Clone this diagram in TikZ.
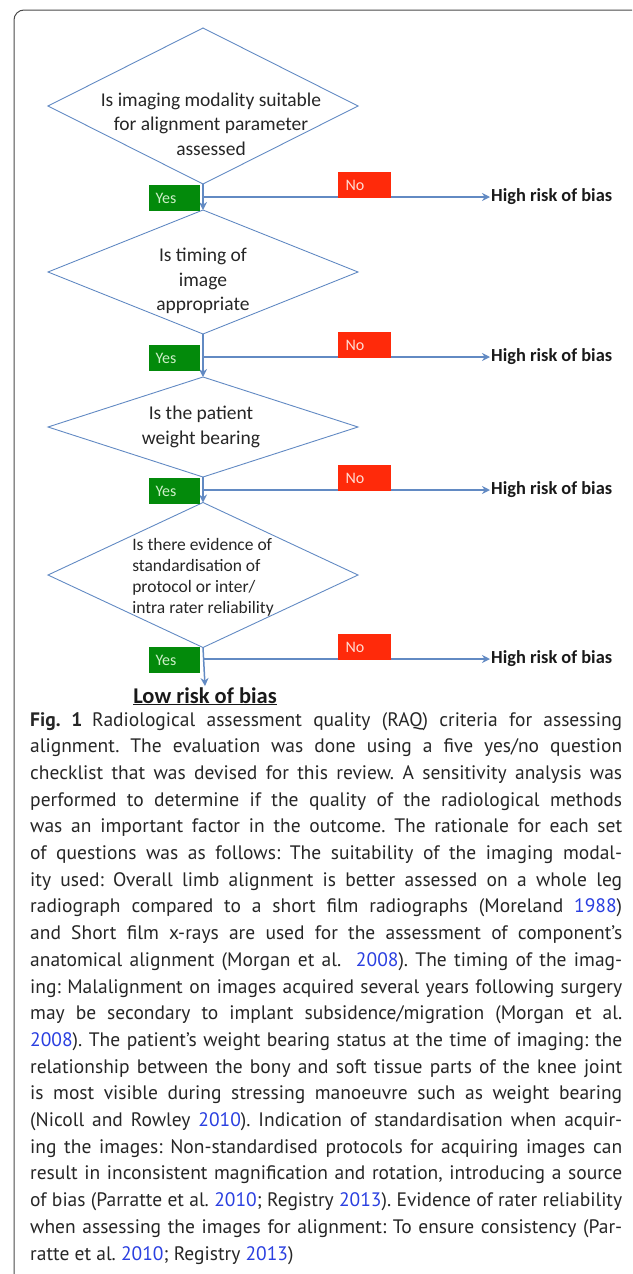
\documentclass[tikz,border=0pt]{standalone}
\usepackage{fontspec}
\setmainfont{Carlito}
\newfontfamily\capfont{PT Sans}
\usetikzlibrary{shapes.geometric,arrows.meta}

\definecolor{flowblue}{HTML}{628AC3}
\definecolor{yesgreen}{HTML}{038A0B}
\definecolor{yestext}{HTML}{CDEFC8}
\definecolor{nored}{HTML}{FF2A0A}
\definecolor{notext}{HTML}{FFDCD2}
\definecolor{framegray}{HTML}{4A4A4A}
\definecolor{citeblue}{HTML}{2A3FE0}

\begin{document}
\begin{tikzpicture}[x=1pt,y=-1pt,
    question/.style={diamond, draw=flowblue, line width=0.9pt, inner sep=0pt, outer sep=0pt},
    qtext/.style={align=center, text=black!85, font=\fontsize{19.5}{24.5}\selectfont},
    yesbox/.style={fill=yesgreen, text=yestext, minimum height=26pt, text width=37pt,
        inner xsep=7pt, inner ysep=0pt, align=left, font=\fontsize{16}{16}\selectfont},
    nobox/.style={fill=nored, text=notext, minimum height=26pt, text width=37pt,
        inner xsep=8pt, inner ysep=0pt, align=left, font=\fontsize{16}{16}\selectfont},
    outcome/.style={anchor=west, inner sep=1pt, text=black!90, font=\bfseries\fontsize{18.4}{18}\selectfont},
    flow/.style={draw=flowblue, line width=1.5pt, -{Stealth[length=8pt,width=8pt]}}
  ]
    \useasboundingbox (0,0) rectangle (632,1274);

    % Frame
    \draw[framegray, line width=1pt] (14,1274) -- (14,20) arc[start angle=180, end angle=90, radius=10pt] -- (632,10);

    % Questions
    \node[question, minimum width=310pt, minimum height=156pt] (q1) at (203,106) {};
    \node[question, minimum width=310pt, minimum height=124pt] (q2) at (203,272) {};
    \node[question, minimum width=310pt, minimum height=100pt] (q3) at (203,427) {};
    \node[question, minimum width=310pt, minimum height=145pt] (q4) at (203,575) {};

    \node[qtext] (t1) at (211,124) {Is imaging modality suitable\\for alignment parameter\\assessed};
    \node[qtext] (t2) at (203,281) {Is timing of\\image\\appropriate};
    \node[qtext] (t3) at (201,427) {Is the patient\\weight bearing};
    \node[qtext, align=left, font=\fontsize{17.5}{21}\selectfont] (t4) at (203,577)
        {Is there evidence of\\standardisation of\\protocol or inter/\\intra rater reliability};

    % Yes path
    \draw[flow] (q1.south) -- (q2.north);
    \draw[flow] (q2.south) -- (q3.north);
    \draw[flow] (q3.south) -- (q4.north);
    \node[anchor=base, inner sep=1pt, text=black!90, font=\bfseries\fontsize{22.5}{22}\selectfont]
        (low) at (205,703) {\underline{Low risk of bias}};
    \draw[flow] (q4.south) -- (low.north);

    % No branches
    \foreach \i/\yy in {1/197,2/357,3/490,4/659} {
        \coordinate (j\i) at (203,\yy);
        \node[outcome] (h\i) at (490,\yy) {High risk of bias};
        \draw[flow] (j\i) -- (h\i);
        \node[yesbox] (y\i) at (174,\yy+1) {Yes};
        \node[nobox] (n\i) at (364,\yy-12) {No};
    }

    % Caption
    \node[anchor=north west, inner sep=0pt, text width=592pt, align=justify, text=black!85,
        font=\capfont\fontsize{19.5}{26.7}\selectfont\frenchspacing] (cap) at (30,712) {%
        {\bfseries Fig.~1}\hspace{0.5em}Radiological assessment quality (RAQ) criteria for assessing\linebreak
        alignment. The evaluation was done using a five yes/no question\linebreak
        checklist that was devised for this review. A sensitivity analysis was\linebreak
        performed to determine if the quality of the radiological methods\linebreak
        was an important factor in the outcome. The rationale for each set\linebreak
        of questions was as follows: The suitability of the imaging modal-\linebreak
        ity used: Overall limb alignment is better assessed on a whole leg\linebreak
        radiograph compared to a short film radiographs (Moreland \textcolor{citeblue}{1988})\linebreak
        and Short film x-rays are used for the assessment of component’s\linebreak
        anatomical alignment (Morgan et al.\ \ \textcolor{citeblue}{2008}). The timing of the imag-\linebreak
        ing: Malalignment on images acquired several years following surgery\linebreak
        may be secondary to implant subsidence/migration (Morgan et al.\linebreak
        \textcolor{citeblue}{2008}). The patient’s weight bearing status at the time of imaging: the\linebreak
        relationship between the bony and soft tissue parts of the knee joint\linebreak
        is most visible during stressing manoeuvre such as weight bearing\linebreak
        (Nicoll and Rowley \textcolor{citeblue}{2010}). Indication of standardisation when acquir-\linebreak
        ing the images: Non-standardised protocols for acquiring images can\linebreak
        result in inconsistent magnification and rotation, introducing a source\linebreak
        of bias (Parratte et al. \textcolor{citeblue}{2010}; Registry \textcolor{citeblue}{2013}). Evidence of rater reliability\linebreak
        when assessing the images for alignment: To ensure consistency (Par-\linebreak
        ratte et al. \textcolor{citeblue}{2010}; Registry \textcolor{citeblue}{2013})};
\end{tikzpicture}
\end{document}
